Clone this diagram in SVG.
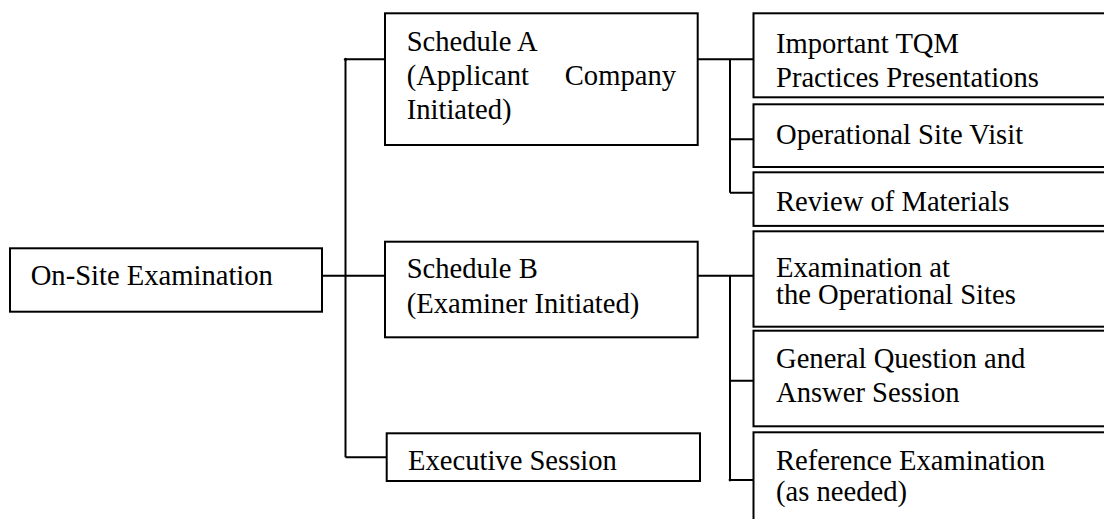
<svg xmlns="http://www.w3.org/2000/svg" width="1104" height="519" viewBox="0 0 1104 519">
<style>
.box{fill:#fff;stroke:#000;stroke-width:2}
text{font-family:'Liberation Serif','Times New Roman',Tinos,serif;font-size:28.6px;fill:#000}
.c{fill:none;stroke:#000;stroke-width:2}
</style>
<rect width="1104" height="519" fill="#fff"/>
<g id="connectors">
<path class="c" d="M345.5 59.3V457.3M345.5 59.3H385M322 275.7H385M345.5 457.3H387"/>
<path class="c" d="M698 59.3H754M730 59.3V192.7M730 139.3H754M730 192.7H754"/>
<path class="c" d="M698 275.7H754M730 275.7V480M730 380.7H754M730 480H754"/>
<circle cx="345.5" cy="59.3" r="1.6" fill="#000"/>
<circle cx="730" cy="480" r="1.4" fill="#000"/>
</g>
<g font-family="Liberation Serif, serif">
<g id="onsite">
<rect class="box" x="10" y="248.3" width="312" height="63.4"/>
<text x="30.7" y="285">On-Site Examination</text>
</g>
<g id="scheduleA">
<rect class="box" x="385" y="13.3" width="312.7" height="131.7"/>
<text x="406.7" y="50.7">Schedule A</text>
<text x="406.7" y="85">(Applicant</text>
<text x="676" y="85" text-anchor="end">Company</text>
<text x="406.7" y="119">Initiated)</text>
</g>
<g id="scheduleB">
<rect class="box" x="385" y="241.7" width="312.7" height="95.6"/>
<text x="406.7" y="278.3">Schedule B</text>
<text x="406.7" y="312.7">(Examiner Initiated)</text>
</g>
<g id="executive">
<rect class="box" x="386.7" y="433.3" width="313.3" height="47.7"/>
<text x="408" y="470">Executive Session</text>
</g>
<g id="tqm">
<rect class="box" x="753.5" y="13.3" width="360" height="84"/>
<text x="776" y="53.3">Important TQM</text>
<text x="776" y="87.3">Practices Presentations</text>
</g>
<g id="sitevisit">
<rect class="box" x="753.5" y="104.3" width="360" height="62.7"/>
<text x="776" y="144">Operational Site Visit</text>
</g>
<g id="review">
<rect class="box" x="753.5" y="172.3" width="360" height="53.6"/>
<text x="776" y="210.7">Review of Materials</text>
</g>
<g id="examsites">
<rect class="box" x="753.5" y="231.3" width="360" height="95.4"/>
<text x="776" y="276.5">Examination at</text>
<text x="776" y="304">the Operational Sites</text>
</g>
<g id="qa">
<rect class="box" x="753.5" y="330.7" width="360" height="95.6"/>
<text x="776" y="368.3">General Question and</text>
<text x="776" y="402.3">Answer Session</text>
</g>
<g id="reference">
<rect class="box" x="753.5" y="432.3" width="360" height="100"/>
<text x="776" y="470">Reference Examination</text>
<text x="776" y="500.5">(as needed)</text>
</g>
</g>
</svg>
